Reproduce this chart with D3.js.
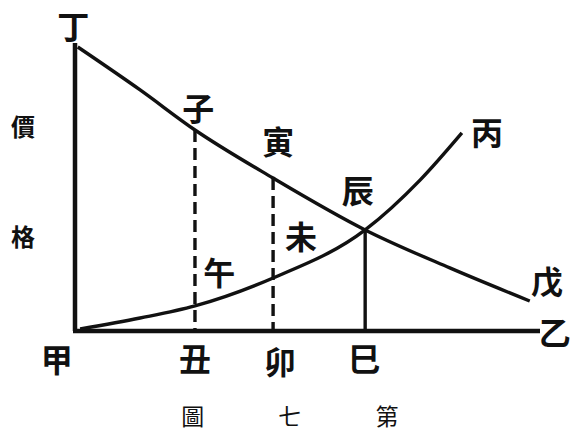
<!DOCTYPE html>
<html>
<head>
<meta charset="utf-8">
<script src="https://cdn.jsdelivr.net/npm/d3@7"></script>
<style>
  body { margin: 0; background: #fff; }
  text { font-family: "Noto Sans CJK TC", "Noto Sans CJK SC", sans-serif; fill: #111; }
</style>
</head>
<body>
<script>
// Width and height
var w = 573;
var h = 432;

// quantity (x) and price (y) in chart units, 0..10
var demandX = [0.06, 1.4, 2.58, 4.26, 6.24, 8.06, 9.78];
var demandY = [9.86, 8.37, 6.98, 5.31, 3.51, 2.19, 1.04];
var supplyX = [0.11, 1.4, 2.58, 4.26, 6.24, 7.42, 8.32];
var supplyY = [0.07, 0.45, 0.87, 1.84, 3.51, 5.24, 6.88];

// vertical drop lines: 子-丑, 寅-卯 (dashed), 辰-巳 (solid)
var dropX = [2.58, 4.26, 6.24];
var dropY = [6.98, 5.31, 3.51];
var dropDashed = [true, true, false];

// point labels
var labelText = ["丁", "甲", "乙", "丙", "戊", "子", "寅", "辰", "午", "未", "丑", "卯", "巳"];
var labelX = [-0.04, -0.39, 10.32, 8.86, 10.15, 2.65, 4.37, 6.08, 3.1, 4.86, 2.58, 4.41, 6.22];
var labelY = [10.63, -0.94, 0.0, 6.95, 1.77, 7.78, 6.63, 4.93, 2.08, 3.33, -0.9, -1.0, -0.9];

var sideLabels = ["價", "格"];
var sideY = [7.15, 3.3];

var caption = ["圖", "七", "第"];
var captionX = [2.53, 4.62, 6.71];

var xScale = d3.scaleLinear().domain([0, 10]).range([75, 540]);
var yScale = d3.scaleLinear().domain([0, 10]).range([331, 43]);

var svg = d3.select("body")
    .append("svg")
    .attr("width", w)
    .attr("height", h);

var line = d3.line()
    .x(d => xScale(d[0]))
    .y(d => yScale(d[1]))
    .curve(d3.curveMonotoneX);

// axes (甲-丁 and 甲-乙)
svg.append("line")
    .attr("x1", xScale(0)).attr("y1", yScale(0))
    .attr("x2", xScale(0)).attr("y2", yScale(10))
    .attr("stroke", "#111").attr("stroke-width", 4.5);
svg.append("line")
    .attr("x1", xScale(0) - 2).attr("y1", yScale(0))
    .attr("x2", xScale(10)).attr("y2", yScale(0))
    .attr("stroke", "#111").attr("stroke-width", 4.5);

// drop lines
svg.selectAll(".drop")
    .data(dropX)
    .enter()
    .append("line")
    .attr("class", "drop")
    .attr("x1", d => xScale(d))
    .attr("x2", d => xScale(d))
    .attr("y1", (d, i) => yScale(dropY[i]))
    .attr("y2", yScale(0))
    .attr("stroke", "#111")
    .attr("stroke-width", 3.4)
    .attr("stroke-dasharray", (d, i) => dropDashed[i] ? "12,6" : null);

// demand curve 丁-戊
svg.append("path")
    .datum(d3.zip(demandX, demandY))
    .attr("d", line)
    .attr("fill", "none")
    .attr("stroke", "#111")
    .attr("stroke-width", 3.4);

// supply curve 甲-丙
svg.append("path")
    .datum(d3.zip(supplyX, supplyY))
    .attr("d", line)
    .attr("fill", "none")
    .attr("stroke", "#111")
    .attr("stroke-width", 3.4);

// letters
svg.selectAll(".lbl")
    .data(labelText)
    .enter()
    .append("text")
    .attr("class", "lbl")
    .attr("x", (d, i) => xScale(labelX[i]))
    .attr("y", (d, i) => yScale(labelY[i]))
    .attr("text-anchor", "middle")
    .attr("dominant-baseline", "central")
    .attr("font-size", "32px")
    .attr("font-weight", "bold")
    .text(d => d);

svg.selectAll(".side")
    .data(sideLabels)
    .enter()
    .append("text")
    .attr("class", "side")
    .attr("x", 23)
    .attr("y", (d, i) => yScale(sideY[i]))
    .attr("text-anchor", "middle")
    .attr("dominant-baseline", "central")
    .attr("font-size", "24px")
    .attr("font-weight", "bold")
    .text(d => d);

svg.selectAll(".cap")
    .data(caption)
    .enter()
    .append("text")
    .attr("class", "cap")
    .attr("x", (d, i) => xScale(captionX[i]))
    .attr("y", 415)
    .attr("text-anchor", "middle")
    .attr("dominant-baseline", "central")
    .attr("font-size", "23px")
    .text(d => d);
</script>
</body>
</html>
